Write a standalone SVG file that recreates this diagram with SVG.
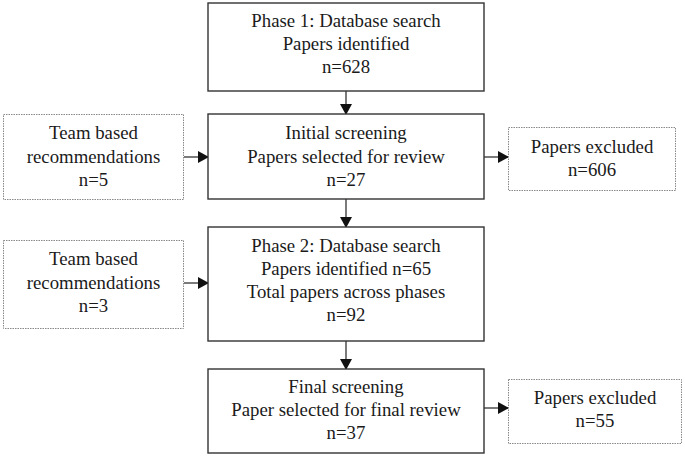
<svg xmlns="http://www.w3.org/2000/svg" width="685" height="457" viewBox="0 0 685 457">
<style>
.main{fill:#fff;stroke:#333;stroke-width:1.4}
.side{fill:#fff;stroke:#888;stroke-width:1;stroke-dasharray:1.5 1}
text{font-family:"Liberation Serif","Times New Roman",serif;font-size:18.8px;fill:#1a1a1a;text-anchor:middle}
.c{stroke:#333;stroke-width:1.3;fill:none;marker-end:url(#ah)}
</style>
<defs>
<marker id="ah" markerWidth="11" markerHeight="12" refX="10" refY="6" orient="auto" markerUnits="userSpaceOnUse">
<path d="M0,0 L11,6 L0,12 Z" fill="#111"/>
</marker>
</defs>
<rect width="685" height="457" fill="#fff"/>
<g id="connectors">
<line class="c" x1="346" y1="91" x2="346" y2="114"/>
<line class="c" x1="346" y1="199" x2="346" y2="227"/>
<line class="c" x1="346" y1="341" x2="346" y2="369"/>
<line class="c" x1="184" y1="157" x2="208" y2="157"/>
<line class="c" x1="184" y1="283" x2="208" y2="283"/>
<line class="c" x1="484" y1="157" x2="508" y2="157"/>
<line class="c" x1="484" y1="408" x2="508" y2="408"/>
</g>
<g id="phase1">
<rect class="main" x="208" y="3" width="276" height="88"/>
<text x="346" y="27">Phase 1: Database search</text>
<text x="346" y="50">Papers identified</text>
<text x="346" y="73">n=628</text>
</g>
<g id="initial">
<rect class="main" x="208" y="114" width="276" height="85"/>
<text x="346" y="139">Initial screening</text>
<text x="346" y="163">Papers selected for review</text>
<text x="346" y="186">n=27</text>
</g>
<g id="phase2">
<rect class="main" x="208" y="227" width="276" height="114"/>
<text x="346" y="252">Phase 2: Database search</text>
<text x="346" y="275">Papers identified n=65</text>
<text x="346" y="298">Total papers across phases</text>
<text x="346" y="321">n=92</text>
</g>
<g id="final">
<rect class="main" x="208" y="369" width="276" height="84"/>
<text x="346" y="393">Final screening</text>
<text x="346" y="416">Paper selected for final review</text>
<text x="346" y="439">n=37</text>
</g>
<g id="team1">
<rect class="side" x="3.5" y="114.5" width="180" height="85"/>
<text x="93.5" y="139">Team based</text>
<text x="93.5" y="163">recommendations</text>
<text x="93.5" y="186">n=5</text>
</g>
<g id="team2">
<rect class="side" x="3.5" y="240.5" width="180" height="88"/>
<text x="93.5" y="265">Team based</text>
<text x="93.5" y="289">recommendations</text>
<text x="93.5" y="312">n=3</text>
</g>
<g id="excl1">
<rect class="side" x="508.5" y="127.5" width="167" height="63"/>
<text x="592" y="153">Papers excluded</text>
<text x="592" y="176">n=606</text>
</g>
<g id="excl2">
<rect class="side" x="508.5" y="379.5" width="173" height="64"/>
<text x="595" y="404">Papers excluded</text>
<text x="595" y="427">n=55</text>
</g>
</svg>
